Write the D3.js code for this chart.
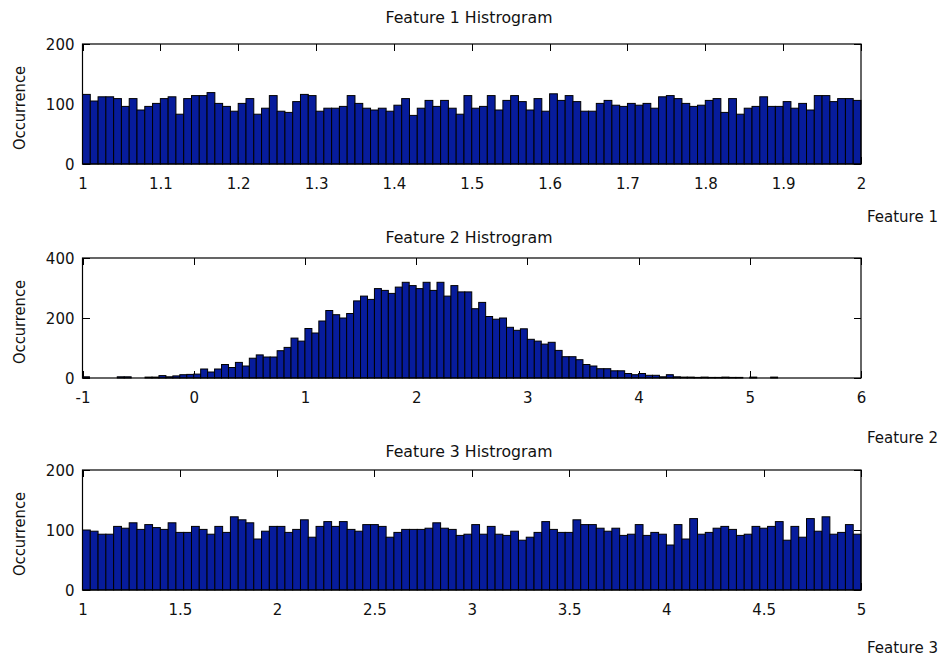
<!DOCTYPE html>
<html>
<head>
<meta charset="utf-8">
<script src="https://cdn.jsdelivr.net/npm/d3@7"></script>
<style>
  html, body { margin: 0; padding: 0; background: #fff; }
  svg { display: block; }
  text { font-family: "DejaVu Sans", sans-serif; fill: #111; }
</style>
</head>
<body>
<svg id="chart" width="944" height="657"></svg>
<script>
// Histogram counts, 100 equal-width bins per feature
const feature1Counts = [
  116,105,112,112,109,96,109,90,96,101,
  109,112,83,109,114,114,119,101,96,88,
  101,109,83,93,114,88,86,104,116,114,
  88,93,93,96,114,101,93,90,93,88,
  98,109,81,93,106,96,106,93,83,114,
  93,96,114,90,106,114,104,90,109,88,
  117,106,114,104,88,88,101,106,98,96,
  101,98,101,93,112,114,109,101,96,98,
  106,109,86,109,83,93,96,112,96,96,
  104,93,101,90,114,114,104,109,109,106
];
const feature2Counts = [
  4,0,0,0,0,4,4,0,0,3,
  3,8,4,7,11,12,13,30,20,30,
  45,35,52,40,66,77,70,70,91,102,
  133,123,165,150,190,225,211,200,215,257,
  273,262,298,292,282,303,319,308,298,319,
  292,319,273,308,287,287,231,252,205,196,
  200,169,159,164,129,123,113,119,92,71,
  71,61,45,40,31,31,24,24,15,11,
  15,9,9,4,11,4,3,3,2,3,
  2,2,3,2,2,0,3,0,0,3
];
const feature3Counts = [
  100,98,93,93,106,103,112,101,109,104,
  101,112,96,96,106,101,93,106,96,122,
  117,112,85,98,106,106,96,101,117,88,
  106,114,106,114,101,98,109,109,106,88,
  96,101,101,101,103,112,103,101,91,93,
  109,93,106,93,91,98,83,88,96,114,
  101,96,96,117,109,109,103,98,103,91,
  93,109,91,96,93,75,109,85,119,93,
  96,103,106,101,91,93,106,103,106,114,
  83,106,88,119,98,122,93,96,109,93
];

// Left edge of the first bin and the bin width for each feature
const binStarts = [1, -1.0, 1];
const binWidths = [0.01, 0.0625, 0.04];

// Axis ranges and tick values
const xDomains = [[1, 2], [-1, 6], [1, 5]];
const yDomains = [[0, 200], [0, 400], [0, 200]];
const xTicks1 = [1, 1.1, 1.2, 1.3, 1.4, 1.5, 1.6, 1.7, 1.8, 1.9, 2];
const xTicks2 = [-1, 0, 1, 2, 3, 4, 5, 6];
const xTicks3 = [1, 1.5, 2, 2.5, 3, 3.5, 4, 4.5, 5];
const yTicks1 = [0, 100, 200];
const yTicks2 = [0, 200, 400];
const yTicks3 = [0, 100, 200];

const titles = ["Feature 1 Histrogram", "Feature 2 Histrogram", "Feature 3 Histrogram"];
const xLabels = ["Feature 1", "Feature 2", "Feature 3"];
const yLabel = "Occurrence";

// Layout
const plotLeft = 82.5, plotRight = 861, plotHeight = 120;
const panelTops = [44, 258, 470];
const titleY = [18, 238, 452];
const xLabelY = [217, 438, 648];
const tickLen = 7;
const barFill = "#071c9c";

const svg = d3.select("#chart");

const panels = [
  { counts: feature1Counts, xTicks: xTicks1, yTicks: yTicks1 },
  { counts: feature2Counts, xTicks: xTicks2, yTicks: yTicks2 },
  { counts: feature3Counts, xTicks: xTicks3, yTicks: yTicks3 }
];

// Plain hyphen for negatives, shortest form for decimals
const fmt = v => String(+v.toFixed(6));

panels.forEach((p, k) => {
  const top = panelTops[k], bottom = top + plotHeight;
  const x = d3.scaleLinear().domain(xDomains[k]).range([plotLeft, plotRight]);
  const y = d3.scaleLinear().domain(yDomains[k]).range([bottom, top]);
  const g = svg.append("g");

  // Inward ticks on all four sides (drawn beneath the bars)
  const ticks = g.append("g").attr("stroke", "#000").attr("stroke-width", 1)
    .attr("shape-rendering", "crispEdges");
  p.xTicks.forEach(t => {
    const xp = Math.round(x(t)) + 0.5;
    ticks.append("line").attr("x1", xp).attr("x2", xp).attr("y1", bottom).attr("y2", bottom - tickLen);
    ticks.append("line").attr("x1", xp).attr("x2", xp).attr("y1", top).attr("y2", top + tickLen);
  });
  p.yTicks.forEach(t => {
    const yp = Math.round(y(t)) + 0.5;
    ticks.append("line").attr("x1", plotLeft).attr("x2", plotLeft + tickLen).attr("y1", yp).attr("y2", yp);
    ticks.append("line").attr("x1", plotRight).attr("x2", plotRight - tickLen).attr("y1", yp).attr("y2", yp);
  });

  // Bars
  const bins = p.counts.map((c, i) => ({
    x0: binStarts[k] + i * binWidths[k],
    x1: binStarts[k] + (i + 1) * binWidths[k],
    count: c
  }));
  g.append("g").selectAll("rect")
    .data(bins.filter(d => d.count > 0))
    .join("rect")
    .attr("x", d => x(d.x0))
    .attr("width", d => x(d.x1) - x(d.x0))
    .attr("y", d => y(d.count))
    .attr("height", d => y(0) - y(d.count))
    .attr("fill", barFill)
    .attr("stroke", "#000")
    .attr("stroke-width", 1);

  // Axis box
  g.append("rect")
    .attr("x", plotLeft).attr("y", top)
    .attr("width", plotRight - plotLeft).attr("height", plotHeight)
    .attr("fill", "none").attr("stroke", "#000").attr("stroke-width", 1.2);

  // Tick labels via d3 axis generators, lines hidden
  const xAxis = d3.axisBottom(x).tickValues(p.xTicks).tickFormat(fmt).tickSize(0).tickPadding(0);
  const xa = g.append("g").attr("transform", `translate(0,${bottom + 20})`).call(xAxis);
  xa.select(".domain").remove();
  xa.selectAll("text").attr("dy", "0.35em").attr("y", 0)
    .style("font-family", '"DejaVu Sans", sans-serif').style("font-size", "15px").attr("fill", "#111");

  const yAxis = d3.axisLeft(y).tickValues(p.yTicks).tickFormat(fmt).tickSize(0).tickPadding(0);
  const ya = g.append("g").attr("transform", `translate(${plotLeft - 8},0)`).call(yAxis);
  ya.select(".domain").remove();
  ya.selectAll("text").attr("dy", "0.37em")
    .style("font-family", '"DejaVu Sans", sans-serif').style("font-size", "15px").attr("fill", "#111");

  // Title
  g.append("text")
    .attr("x", 469).attr("y", titleY[k]).attr("dy", "0.35em")
    .attr("text-anchor", "middle").style("font-size", "15px")
    .attr("textLength", 167).attr("lengthAdjust", "spacingAndGlyphs")
    .text(titles[k]);

  // X label
  g.append("text")
    .attr("x", 938).attr("y", xLabelY[k]).attr("dy", "0.35em")
    .attr("text-anchor", "end").style("font-size", "15px")
    .text(xLabels[k]);

  // Y label
  const yc = (top + bottom) / 2 + 4;
  g.append("text")
    .attr("transform", `translate(20,${yc}) rotate(-90)`)
    .attr("dy", "0.35em")
    .attr("text-anchor", "middle").style("font-size", "15px")
    .attr("textLength", 84).attr("lengthAdjust", "spacingAndGlyphs")
    .text(yLabel);
});
</script>
</body>
</html>
